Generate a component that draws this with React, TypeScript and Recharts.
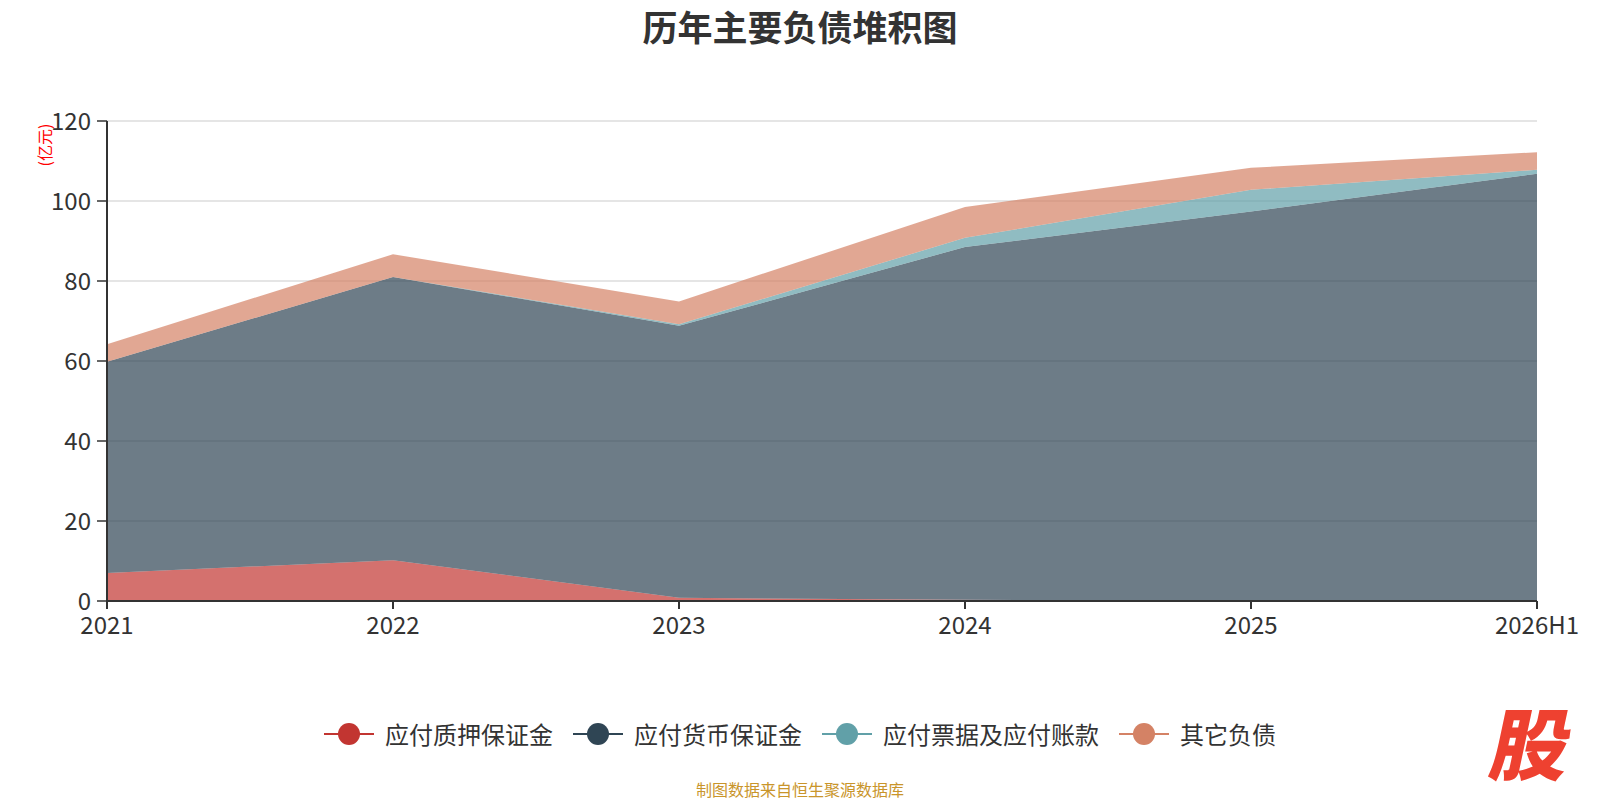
import React from 'react';
import { AreaChart, Area, XAxis, YAxis, CartesianGrid } from 'recharts';

const years = ['2021', '2022', '2023', '2024', '2025', '2026H1'];
// 亿元, individual layers (stacked bottom to top)
const pledgeDeposit = [7.0, 10.2, 0.8, 0.3, 0.05, 0];
const currencyDeposit = [52.8, 70.8, 68.0, 88.2, 97.35, 106.8];
const notesPayable = [0, 0, 0.4, 2.3, 5.4, 1.0];
const otherLiabilities = [4.4, 5.7, 5.7, 7.7, 5.5, 4.4];
const yTicks = [0, 20, 40, 60, 80, 100, 120];

const SERIES = [
  { key: 'pledge', name: '应付质押保证金', color: '#c23531', values: pledgeDeposit },
  { key: 'currency', name: '应付货币保证金', color: '#2f4554', values: currencyDeposit },
  { key: 'notes', name: '应付票据及应付账款', color: '#61a0a8', values: notesPayable },
  { key: 'other', name: '其它负债', color: '#d48265', values: otherLiabilities },
];

const data = years.map((year, i) => {
  const row: Record<string, string | number> = { year };
  SERIES.forEach((s) => {
    row[s.key] = s.values[i];
  });
  return row;
});

const FONT = '"Noto Sans CJK SC", "Noto Sans", sans-serif';

export default function App() {
  return (
    <div
      style={{
        position: 'absolute',
        left: 0,
        top: 0,
        width: 1600,
        height: 800,
        background: '#fff',
        fontFamily: FONT,
        overflow: 'hidden',
      }}
    >
      <div
        style={{
          position: 'absolute',
          left: 0,
          width: 1600,
          top: 26,
          transform: 'translateY(-50%)',
          textAlign: 'center',
          fontSize: 35,
          fontWeight: 700,
          color: '#333',
          lineHeight: '40px',
        }}
      >
        历年主要负债堆积图
      </div>

      <div
        style={{
          position: 'absolute',
          left: 44,
          top: 145,
          transform: 'translate(-50%, -50%) rotate(-90deg)',
          color: '#ff0000',
          fontSize: 16,
          whiteSpace: 'nowrap',
          lineHeight: '18px',
        }}
      >
        (亿元)
      </div>

      <AreaChart
        width={1600}
        height={800}
        data={data}
        margin={{ top: 121, right: 63, bottom: 0, left: 0 }}
        style={{ fontFamily: FONT }}
      >
        <CartesianGrid vertical={false} stroke="#cccccc" strokeWidth={1.2} />
        <XAxis
          dataKey="year"
          height={199}
          interval={0}
          tickSize={8}
          tickMargin={8}
          axisLine={{ stroke: '#333', strokeWidth: 2 }}
          tickLine={{ stroke: '#333', strokeWidth: 2 }}
          tick={{ fill: '#333', fontSize: 24 }}
        />
        <YAxis
          width={107}
          domain={[0, 120]}
          ticks={yTicks}
          tickSize={10}
          tickMargin={6}
          axisLine={{ stroke: '#333', strokeWidth: 2 }}
          tickLine={{ stroke: '#333', strokeWidth: 1.5 }}
          tick={{ fill: '#333', fontSize: 24 }}
        />
        {SERIES.map((s) => (
          <Area
            key={s.key}
            type="linear"
            dataKey={s.key}
            name={s.name}
            stackId="1"
            stroke="none"
            fill={s.color}
            fillOpacity={0.7}
            dot={false}
            activeDot={false}
            isAnimationActive={false}
          />
        ))}
      </AreaChart>

      <div
        style={{
          position: 'absolute',
          left: 0,
          width: 1600,
          top: 734,
          transform: 'translateY(-50%)',
          display: 'flex',
          justifyContent: 'center',
          alignItems: 'center',
          gap: 20,
        }}
      >
        {SERIES.map((s) => (
          <div key={s.key} style={{ display: 'flex', alignItems: 'center' }}>
            <svg width={50} height={24} style={{ marginRight: 11 }}>
              <line x1={0} y1={12} x2={50} y2={12} stroke={s.color} strokeWidth={2} />
              <circle cx={25} cy={12} r={11} fill={s.color} />
            </svg>
            <span style={{ fontSize: 24, color: '#333', lineHeight: '28px' }}>{s.name}</span>
          </div>
        ))}
      </div>

      <div
        style={{
          position: 'absolute',
          left: 0,
          width: 1600,
          top: 780,
          textAlign: 'center',
          fontSize: 16,
          color: '#c9952b',
          lineHeight: '18px',
        }}
      >
        制图数据来自恒生聚源数据库
      </div>

      <div
        style={{
          position: 'absolute',
          left: 1533,
          top: 740,
          transform: 'translate(-50%, -50%) skewX(-12deg)',
          fontSize: 78,
          fontWeight: 900,
          color: '#ee4130',
          lineHeight: '78px',
        }}
      >
        股
      </div>
    </div>
  );
}
